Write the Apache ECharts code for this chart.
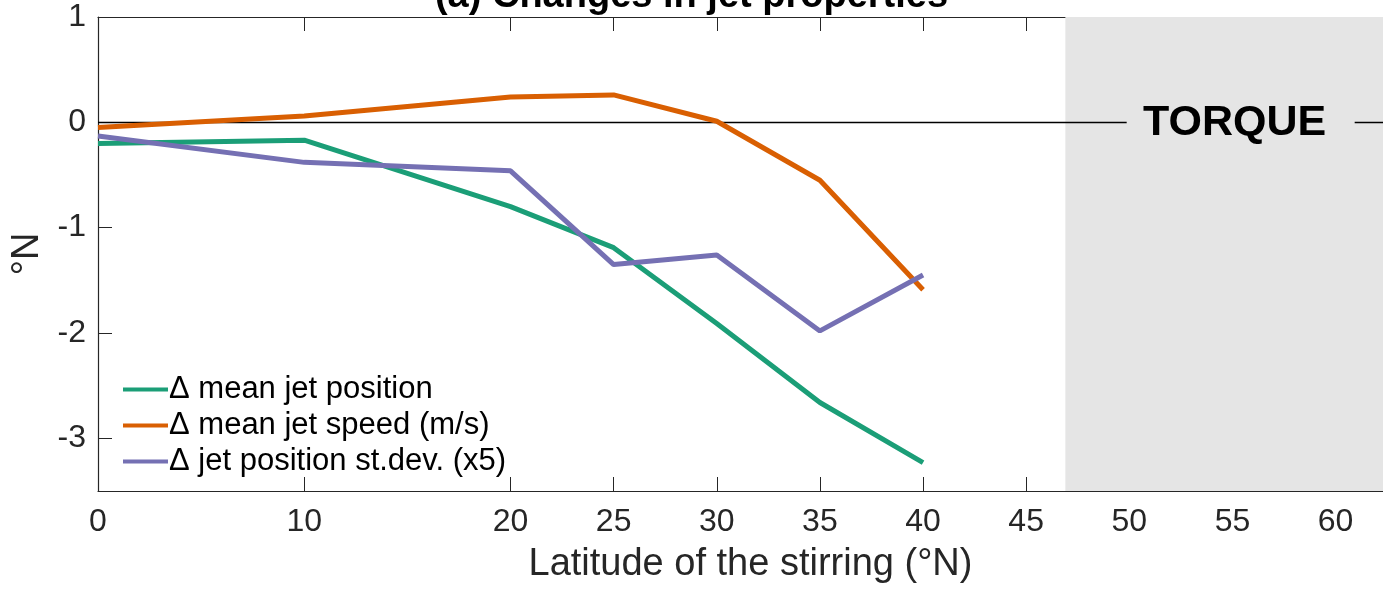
<!DOCTYPE html>
<html lang="en">
<head>
    <meta charset="UTF-8">
    <title>Changes in jet properties</title>
    <style>
        html, body { margin: 0; padding: 0; background: #fff; }
        #main { width: 1383px; height: 590px; }
    </style>
    <script src="https://cdn.jsdelivr.net/npm/echarts@6/dist/echarts.min.js"></script>
</head>
<body>
<div id="main"></div>
<script type="text/javascript">
    // stirring latitudes and the three diagnostics
    var latitudes = [0, 10, 20, 25, 30, 35, 40];
    var meanJetPosition = [-0.2, -0.17, -0.8, -1.19, -1.91, -2.66, -3.23];
    var meanJetSpeed = [-0.05, 0.06, 0.24, 0.26, 0.01, -0.55, -1.59];
    var jetPositionStd = [-0.13, -0.38, -0.46, -1.35, -1.26, -1.98, -1.45];

    var xTicks = [0, 10, 20, 25, 30, 35, 40, 45, 50, 55, 60];
    var yTicks = [-3, -2, -1, 0, 1];
    var xMax = 62.3;
    var torqueStart = 46.9;

    var seriesNames = ['\u0394 mean jet position', '\u0394 mean jet speed (m/s)', '\u0394 jet position st.dev. (x5)'];
    var seriesColors = ['#1b9e77', '#d95f02', '#7570b3'];

    var font = 'Liberation Sans, Helvetica, Arial, sans-serif';
    var ink = '#262626';

    function pairs(ys) {
        return latitudes.map(function (x, i) { return [x, ys[i]]; });
    }

    var myChart = echarts.init(document.getElementById('main'));

    var lines = [meanJetPosition, meanJetSpeed, jetPositionStd].map(function (ys, i) {
        return {
            name: seriesNames[i],
            type: 'line',
            data: pairs(ys),
            symbol: 'none',
            color: seriesColors[i],
            lineStyle: { width: 5, color: seriesColors[i] },
            z: 5
        };
    });

    var option = {
        animation: false,
        title: {
            text: '(a) Changes in jet properties',
            left: 'center',
            top: -27,
            textStyle: { fontFamily: font, fontSize: 38, fontWeight: 'bold', color: '#000' }
        },
        grid: { left: 98, right: 0, top: 17, bottom: 99 },
        legend: {
            data: seriesNames,
            orient: 'vertical',
            left: 118,
            top: 369,
            icon: 'rect',
            itemWidth: 45,
            itemHeight: 4,
            itemGap: 5,
            textStyle: { fontFamily: font, fontSize: 31, color: '#000', lineHeight: 31, padding: [0, 0, 0, -4] }
        },
        xAxis: [{
            type: 'value',
            min: 0,
            max: xMax,
            name: 'Latitude of the stirring (\u00b0N)',
            nameLocation: 'middle',
            nameGap: 55,
            nameTextStyle: { fontFamily: font, fontSize: 38, color: ink, padding: [0, 0, 0, 20] },
            axisLine: { show: true, onZero: false, lineStyle: { color: ink, width: 1.2 } },
            axisTick: { show: true, inside: true, length: 14, customValues: xTicks, lineStyle: { color: ink } },
            axisLabel: { customValues: xTicks, margin: 15, fontFamily: font, fontSize: 32, color: ink },
            splitLine: { show: false }
        }, {
            type: 'value',
            position: 'top',
            min: 0,
            max: xMax,
            axisLine: { show: true, onZero: false, lineStyle: { color: ink, width: 1.2 } },
            axisTick: { show: true, inside: true, length: 14, customValues: xTicks, lineStyle: { color: ink } },
            axisLabel: { show: false },
            splitLine: { show: false }
        }],
        yAxis: {
            type: 'value',
            min: -3.5,
            max: 1,
            name: '\u00b0N',
            nameLocation: 'middle',
            nameGap: 46,
            nameTextStyle: { fontFamily: font, fontSize: 38, color: ink },
            axisLine: { show: true, onZero: false, lineStyle: { color: ink, width: 1.2 } },
            axisTick: { show: true, inside: true, length: 14, customValues: yTicks, lineStyle: { color: ink } },
            axisLabel: { customValues: yTicks, margin: 12, fontFamily: font, fontSize: 32, color: ink },
            splitLine: { show: false }
        },
        series: [{
            name: 'reference',
            type: 'line',
            data: [],
            z: 3,
            markArea: {
                silent: true,
                itemStyle: { color: '#e5e5e5' },
                data: [[{ xAxis: torqueStart, yAxis: -3.5 }, { xAxis: xMax, yAxis: 1 }]]
            },
            markLine: {
                silent: true,
                symbol: 'none',
                label: { show: false },
                lineStyle: { color: '#000', width: 1.3, type: 'solid' },
                data: [{ yAxis: 0 }]
            },
            markPoint: {
                silent: true,
                symbol: 'rect',
                symbolSize: [228, 44],
                itemStyle: { color: '#e5e5e5' },
                label: {
                    show: true,
                    position: 'inside',
                    offset: [-6, 1],
                    formatter: 'TORQUE',
                    fontFamily: font,
                    fontSize: 43,
                    fontWeight: 'bold',
                    color: '#000'
                },
                data: [{ coord: [55.4, 0] }]
            }
        }].concat(lines)
    };

    myChart.setOption(option);
</script>
</body>
</html>
